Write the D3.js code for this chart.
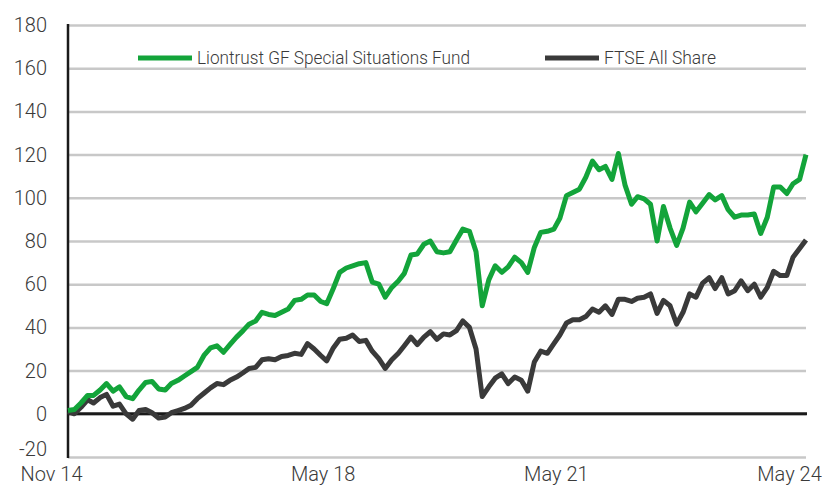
<!DOCTYPE html>
<html>
<head>
<meta charset="utf-8">
<script src="https://cdn.jsdelivr.net/npm/d3@7/dist/d3.min.js"></script>
<style>
  html, body { margin: 0; padding: 0; background: #ffffff; }
  svg { display: block; }
  text { font-family: Roboto, "Liberation Sans", sans-serif; font-weight: 300; fill: #3a3a3a; }
</style>
</head>
<body>
<svg id="chart" width="823" height="486"></svg>
<script>
// ---- data ----
const seriesNames = ["Liontrust GF Special Situations Fund", "FTSE All Share"];
const fundValues = [1.5, 2, 5, 8.5, 8.5, 11, 14, 10.5, 12.5, 8, 7, 11, 14.5, 15, 11.5, 11, 14, 15.5, 17.5, 19.5,
  21.5, 27, 30.5, 31.5, 28.5, 32, 35.5, 38.5, 41.5, 43, 47, 46, 45.5, 47, 48.5, 52.5, 53, 55, 55, 52,
  51, 58, 65.5, 67.5, 68.5, 69.5, 70, 61, 60, 54, 58.5, 61.5, 65, 73.5, 74, 78.5, 80, 75, 74.5, 75,
  80.5, 85.5, 84.5, 75, 50, 62, 68.5, 65.5, 68, 72.5, 70, 65.5, 77, 84, 84.5, 85.5, 90.5, 101, 102.5, 104,
  109.5, 117, 113, 114.5, 108.5, 120.5, 106, 97, 100.5, 99.5, 97, 80, 96, 86, 78, 86, 98, 93.5, 97.5, 101.5,
  99, 101, 94.5, 91, 92, 92, 92.5, 83.5, 91, 105, 105, 102, 106.5, 108.5, 120];
const indexValues = [1, 0, 3, 6.5, 5, 7.5, 9, 3.5, 4.5, 0, -2.5, 1.5, 2, 0.5, -2, -1.5, 0.5, 1.5, 2.5, 4,
  7, 9.5, 12, 14, 13.5, 15.5, 17, 19, 21, 21.5, 25, 25.5, 25, 26.5, 27, 28, 27.5, 32.5, 30, 27,
  24.5, 30.5, 34.5, 35, 36.5, 33.5, 34, 29, 25.5, 21, 25, 28, 31.5, 35.5, 32, 35.5, 38, 34.5, 37, 36.5,
  38.5, 43, 40, 30, 8, 12.5, 16.5, 18.5, 14, 17, 15.5, 10.5, 24, 29, 28, 32.5, 36.5, 42, 43.5, 43.5,
  45, 48.5, 47, 50, 46, 53, 53, 52, 53.5, 54, 55.5, 46.5, 52.5, 50, 41.5, 47, 55.5, 54, 60.5, 63,
  58, 63, 55.5, 57, 61.5, 57, 60, 54, 58.5, 66, 64, 64, 72.5, 76.5, 80.5];
// monthly categories: Nov 2014 .. May 2024
const months = d3.timeMonth.range(new Date(2014, 10, 1), new Date(2024, 5, 1));
const xTickLabels = ["Nov 14", "May 18", "May 21", "May 24"];
const xTickDates = [new Date(2014, 10, 1), new Date(2018, 4, 1), new Date(2021, 4, 1), new Date(2024, 4, 1)];
const yTicks = [-20, 0, 20, 40, 60, 80, 100, 120, 140, 160, 180];
const colors = ["#13a43a", "#3a3a3a"];

// ---- layout ----
const svg = d3.select("#chart");
const mLeft = 68, mRight = 806, mTop = 25, mBottom = 457;

const x = d3.scaleTime().domain([months[0], months[months.length - 1]]).range([mLeft, mRight]);
const y = d3.scaleLinear().domain([-20, 180]).range([mBottom, mTop]);

// gridlines + y labels
const yAxis = d3.axisLeft(y).tickValues(yTicks).tickSize(-(mRight - mLeft)).tickPadding(21)
  .tickFormat(d => String(d));
const gy = svg.append("g").attr("transform", `translate(${mLeft},0)`).call(yAxis);
gy.select(".domain").remove();
gy.selectAll(".tick line").attr("stroke", "#c8c8c8").attr("stroke-width", 2.5);
gy.selectAll(".tick text").attr("font-size", 20).attr("fill", "#3a3a3a")
  .attr("font-family", "Roboto, 'Liberation Sans', sans-serif").attr("font-weight", 300)
  .attr("dy", (d) => d === -20 ? "-0.1em" : "0.32em");

// zero line
svg.append("line").attr("x1", mLeft).attr("x2", mRight + 1).attr("y1", y(0)).attr("y2", y(0))
  .attr("stroke", "#1a1a1a").attr("stroke-width", 3);

// y axis line
svg.append("line").attr("x1", mLeft).attr("x2", mLeft).attr("y1", mTop - 1).attr("y2", mBottom + 1)
  .attr("stroke", "#1a1a1a").attr("stroke-width", 2.5);

// x axis labels
const xAxis = d3.axisBottom(x).tickValues(xTickDates).tickSize(0).tickPadding(0)
  .tickFormat((d, i) => xTickLabels[i]);
const gx = svg.append("g").attr("transform", `translate(-17,0)`).call(xAxis);
gx.select(".domain").remove();
gx.selectAll(".tick text").attr("font-size", 20).attr("fill", "#3a3a3a")
  .attr("font-family", "Roboto, 'Liberation Sans', sans-serif").attr("font-weight", 300)
  .attr("y", 481).attr("dy", 0);

// lines
const line = d3.line().x((d, i) => x(months[i])).y(d => y(d)).curve(d3.curveLinear);
svg.append("path").datum(indexValues).attr("d", line).attr("fill", "none")
  .attr("stroke", colors[1]).attr("stroke-width", 5).attr("stroke-linejoin", "round");
svg.append("path").datum(fundValues).attr("d", line).attr("fill", "none")
  .attr("stroke", colors[0]).attr("stroke-width", 5).attr("stroke-linejoin", "round");

// legend
const legendItems = [
  { name: seriesNames[0], color: colors[0], x: 138, w: 273 },
  { name: seriesNames[1], color: colors[1], x: 545, w: 112 }
];
const lg = svg.append("g");
legendItems.forEach(it => {
  lg.append("line").attr("x1", it.x).attr("x2", it.x + 54).attr("y1", 58).attr("y2", 58)
    .attr("stroke", it.color).attr("stroke-width", 5);
  lg.append("text").attr("x", it.x + 59).attr("y", 64).attr("font-size", 18)
    .attr("textLength", it.w).attr("lengthAdjust", "spacingAndGlyphs").text(it.name);
});
</script>
</body>
</html>
